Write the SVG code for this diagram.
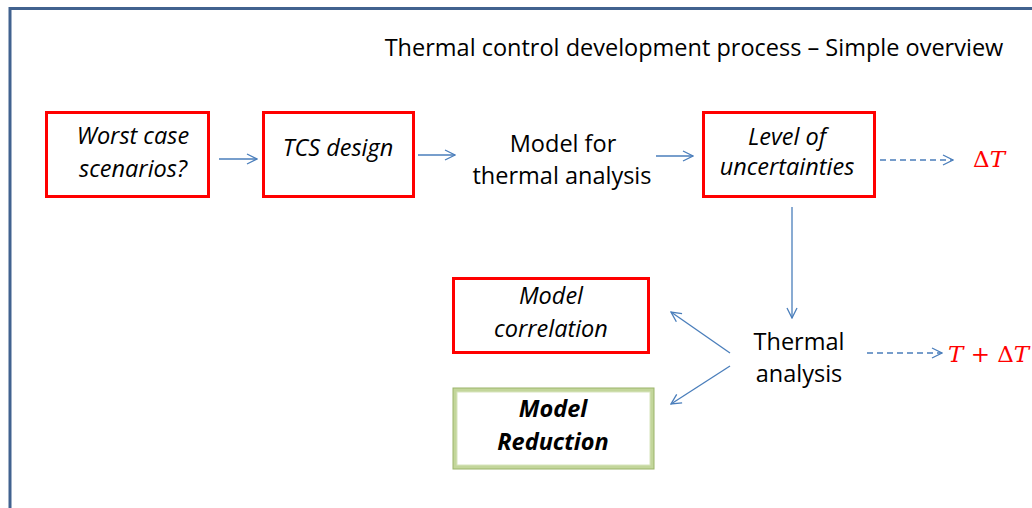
<svg xmlns="http://www.w3.org/2000/svg" width="1032" height="508" viewBox="0 0 1032 508">
  <defs>
    <style>
      .txt { font-family: "Open Sans", "Liberation Sans", sans-serif; font-size: 23.5px; fill: #000; text-anchor: middle; }
      .it { font-style: italic; }
      .bi { font-style: italic; font-weight: bold; }
      .red { fill: #fff; stroke: #ff0000; stroke-width: 3; }
      .conn { stroke: #4a7ebb; stroke-width: 1.3; fill: none; }
      .dash { stroke-dasharray: 6 4; }
      .math { font-family: "DejaVu Serif", "Liberation Serif", serif; font-size: 23px; fill: #ff0000; }
    </style>
    <marker id="open" viewBox="0 0 12 12" refX="11" refY="6" markerWidth="12" markerHeight="12" markerUnits="userSpaceOnUse" orient="auto">
      <path d="M1,1 L11,6 L1,11" fill="none" stroke="#4a7ebb" stroke-width="1.3"/>
    </marker>
  </defs>

  <rect width="1032" height="508" fill="#fff"/>
  <!-- slide frame -->
  <path d="M10,512 V8.5 H1040" fill="none" stroke="#41628f" stroke-width="3"/>

  <text class="txt" x="694" y="56">Thermal control development process – Simple overview</text>

  <g id="connectors">
    <line class="conn" x1="219" y1="159" x2="257" y2="159" marker-end="url(#open)"/>
    <line class="conn" x1="418" y1="155" x2="455" y2="155" marker-end="url(#open)"/>
    <line class="conn" x1="656" y1="156" x2="693" y2="156" marker-end="url(#open)"/>
    <line class="conn dash" x1="880" y1="160" x2="953" y2="160" marker-end="url(#open)"/>
    <line class="conn" x1="792" y1="207" x2="792" y2="318" marker-end="url(#open)"/>
    <line class="conn" x1="730" y1="353" x2="671" y2="312" marker-end="url(#open)"/>
    <line class="conn" x1="730" y1="366" x2="671" y2="404" marker-end="url(#open)"/>
    <line class="conn dash" x1="867" y1="353" x2="942" y2="353" marker-end="url(#open)"/>
  </g>

  <g id="worst-case">
    <rect class="red" x="46.5" y="112.5" width="162" height="84"/>
    <text class="txt it" x="133" y="144">Worst case</text>
    <text class="txt it" x="133" y="177">scenarios?</text>
  </g>

  <g id="tcs-design">
    <rect class="red" x="263.5" y="112.5" width="150" height="84"/>
    <text class="txt it" x="338" y="156">TCS design</text>
  </g>

  <g id="model-thermal">
    <text class="txt" x="563" y="152">Model for</text>
    <text class="txt" x="562" y="184">thermal analysis</text>
  </g>

  <g id="uncertainties">
    <rect class="red" x="703.5" y="112.5" width="171" height="84"/>
    <text class="txt it" x="787" y="145">Level of</text>
    <text class="txt it" x="787" y="175">uncertainties</text>
  </g>

  <g id="delta-t">
    <text class="math" x="973" y="167">Δ<tspan font-style="italic">T</tspan></text>
  </g>

  <g id="model-correlation">
    <rect class="red" x="453.5" y="278.5" width="195" height="74"/>
    <text class="txt it" x="551" y="304">Model</text>
    <text class="txt it" x="551" y="337">correlation</text>
  </g>

  <g id="model-reduction">
    <rect x="455" y="390" width="197" height="77" fill="#fff" stroke="#c3d69b" stroke-width="4"/>
    <rect x="453" y="388" width="201" height="81" fill="none" stroke="#9bb46a" stroke-width="1"/>
    <rect x="457" y="392" width="193" height="73" fill="none" stroke="#d7e4bd" stroke-width="1"/>
    <text class="txt bi" x="553" y="417">Model</text>
    <text class="txt bi" x="553" y="450">Reduction</text>
  </g>

  <g id="thermal-analysis">
    <text class="txt" x="799" y="350">Thermal</text>
    <text class="txt" x="799" y="382">analysis</text>
  </g>

  <g id="t-plus-delta-t">
    <text class="math" x="948" y="362"><tspan font-style="italic">T</tspan> + Δ<tspan font-style="italic">T</tspan></text>
  </g>
</svg>
